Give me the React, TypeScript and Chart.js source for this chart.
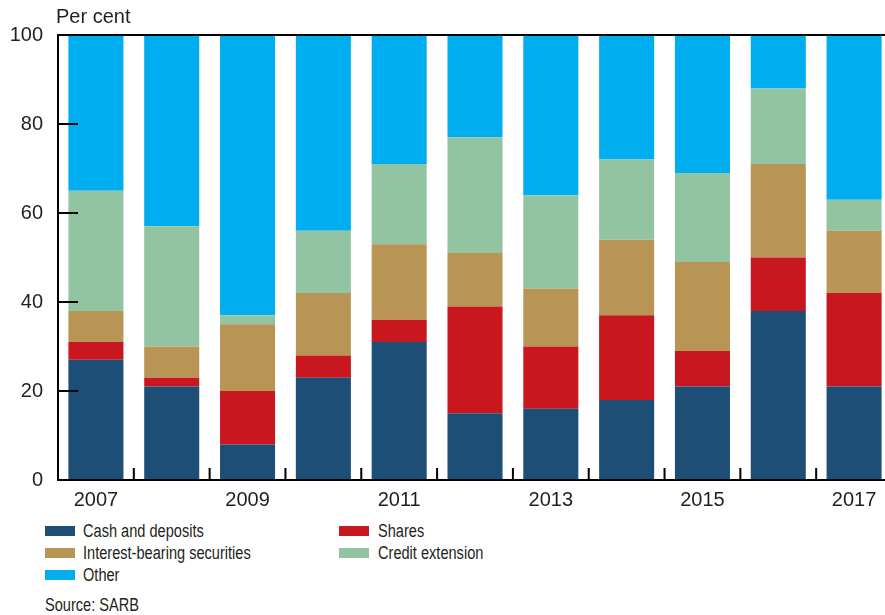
import React, { useEffect, useRef } from "react";
import { Chart, registerables } from "chart.js";

Chart.register(...registerables);

const years = ["2007", "2008", "2009", "2010", "2011", "2012", "2013", "2014", "2015", "2016", "2017"];
const xTickLabels = ["2007", "", "2009", "", "2011", "", "2013", "", "2015", "", "2017"];
const yTicks = [0, 20, 40, 60, 80, 100];

const cashAndDeposits = [27, 21, 8, 23, 31, 15, 16, 18, 21, 38, 21];
const shares = [4, 2, 12, 5, 5, 24, 14, 19, 8, 12, 21];
const interestBearing = [7, 7, 15, 14, 17, 12, 13, 17, 20, 21, 14];
const creditExtension = [27, 27, 2, 14, 18, 26, 21, 18, 20, 17, 7];
const other = [35, 43, 63, 44, 29, 23, 36, 28, 31, 12, 37];

const COLORS = {
  cash: "#1D4E75",
  shares: "#C8171F",
  ibs: "#B89554",
  credit: "#93C4A2",
  other: "#00ADEF",
};

const TEXT = "#231F20";
const FONT = "'Liberation Sans', Arial, Helvetica, sans-serif";

const axisDecor = {
  id: "axisDecor",
  afterDatasetsDraw(chart: any) {
    const { ctx, chartArea, scales } = chart;
    const x = scales.x;
    const y = scales.y;
    ctx.save();
    ctx.strokeStyle = "#000";
    ctx.lineWidth = 2;
    ctx.beginPath();
    ctx.moveTo(chartArea.left - 1, chartArea.top);
    ctx.lineTo(chartArea.right, chartArea.top);
    ctx.moveTo(chartArea.left, chartArea.top);
    ctx.lineTo(chartArea.left, chartArea.bottom + 1);
    ctx.moveTo(chartArea.left - 1, chartArea.bottom);
    ctx.lineTo(chartArea.right, chartArea.bottom);
    y.ticks.forEach((t: any) => {
      const py = y.getPixelForValue(t.value);
      ctx.moveTo(chartArea.left, py);
      ctx.lineTo(chartArea.left + 20, py);
    });
    const n = years.length;
    for (let i = 0; i < n - 1; i++) {
      const px = (x.getPixelForValue(i) + x.getPixelForValue(i + 1)) / 2;
      ctx.moveTo(px, chartArea.bottom);
      ctx.lineTo(px, chartArea.bottom - 12);
    }
    ctx.stroke();
    ctx.restore();
  },
};

const legendItems = [
  { label: "Cash and deposits", color: COLORS.cash, col: 0, row: 0 },
  { label: "Shares", color: COLORS.shares, col: 1, row: 0 },
  { label: "Interest-bearing securities", color: COLORS.ibs, col: 0, row: 1 },
  { label: "Credit extension", color: COLORS.credit, col: 1, row: 1 },
  { label: "Other", color: COLORS.other, col: 0, row: 2 },
];

const legendTextStyle: React.CSSProperties = {
  position: "absolute",
  fontSize: 18,
  lineHeight: "22px",
  whiteSpace: "nowrap",
  transform: "scaleX(0.81)",
  transformOrigin: "0 50%",
};

export default function App() {
  const canvasRef = useRef<HTMLCanvasElement | null>(null);

  useEffect(() => {
    const canvas = canvasRef.current;
    if (!canvas) return;
    const chart = new Chart(canvas, {
      type: "bar",
      data: {
        labels: years,
        datasets: [
          { label: "Cash and deposits", data: cashAndDeposits, backgroundColor: COLORS.cash },
          { label: "Shares", data: shares, backgroundColor: COLORS.shares },
          { label: "Interest-bearing securities", data: interestBearing, backgroundColor: COLORS.ibs },
          { label: "Credit extension", data: creditExtension, backgroundColor: COLORS.credit },
          { label: "Other", data: other, backgroundColor: COLORS.other },
        ],
      },
      options: {
        animation: false,
        responsive: false,
        maintainAspectRatio: false,
        devicePixelRatio: 1,
        datasets: {
          bar: { categoryPercentage: 1, barPercentage: 0.726, borderWidth: 0 },
        },
        layout: { padding: { top: 35, left: 0, right: 0, bottom: 0 } },
        plugins: {
          legend: { display: false },
          tooltip: { enabled: false },
          title: { display: false },
        },
        scales: {
          x: {
            stacked: true,
            grid: { display: false, drawTicks: false },
            border: { display: false },
            ticks: {
              autoSkip: false,
              maxRotation: 0,
              minRotation: 0,
              padding: 8,
              color: TEXT,
              font: { family: FONT, size: 20 },
              callback: (_v: any, i: number) => xTickLabels[i],
            },
            afterFit: (scale: any) => {
              scale.height = 30;
            },
          },
          y: {
            stacked: true,
            min: 0,
            max: 100,
            afterBuildTicks: (scale: any) => {
              scale.ticks = yTicks.map((v) => ({ value: v }));
            },
            grid: { display: false, drawTicks: false },
            border: { display: false },
            ticks: {
              padding: 15,
              color: TEXT,
              font: { family: FONT, size: 20 },
            },
            afterFit: (scale: any) => {
              scale.width = 58;
            },
          },
        },
      },
      plugins: [axisDecor],
    });
    return () => chart.destroy();
  }, []);

  const rowY = [531, 553, 575];
  const colBox = [45, 339];
  const colText = [83, 378];

  return (
    <div
      style={{
        position: "fixed",
        left: 0,
        top: 0,
        width: 885,
        height: 615,
        overflow: "hidden",
        background: "#fff",
        fontFamily: FONT,
        color: TEXT,
      }}
    >
      <canvas ref={canvasRef} width={892} height={510} style={{ position: "absolute", left: 0, top: 0, width: 892, height: 510 }} />
      <div style={{ position: "absolute", left: 56, top: 4, fontSize: 20, lineHeight: "24px", whiteSpace: "nowrap" }}>Per cent</div>
      {legendItems.map((it) => (
        <React.Fragment key={it.label}>
          <div
            style={{
              position: "absolute",
              left: colBox[it.col],
              top: rowY[it.row] - 5,
              width: 30,
              height: 10,
              background: it.color,
            }}
          />
          <div style={{ ...legendTextStyle, left: colText[it.col], top: rowY[it.row] - 11 }}>{it.label}</div>
        </React.Fragment>
      ))}
      <div style={{ ...legendTextStyle, left: 45, top: 594 }}>Source: SARB</div>
    </div>
  );
}
